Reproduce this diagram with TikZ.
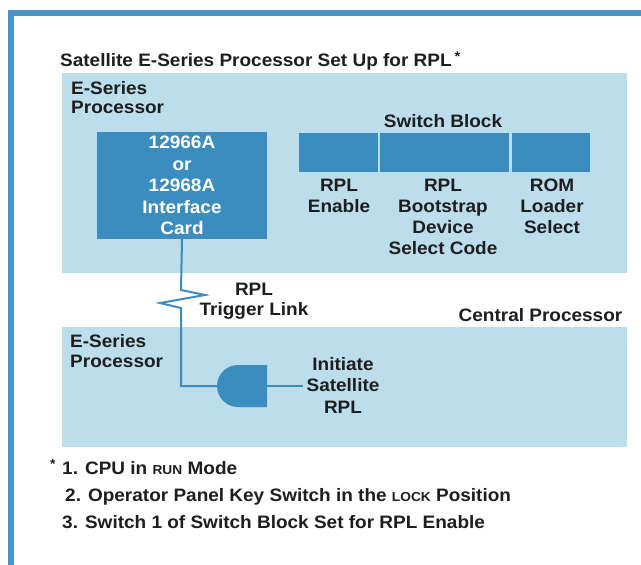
\documentclass[tikz,border=0pt]{standalone}
\usepackage{fontspec}
\setmainfont{Liberation Sans}[FakeStretch=1.055]
\definecolor{frameblue}{RGB}{72,150,198}
\definecolor{boxblue}{RGB}{60,141,191}
\definecolor{panelblue}{RGB}{188,221,236}
\definecolor{ink}{RGB}{30,30,30}
\newcommand{\fsc}[1]{{\fontsize{13}{13}\selectfont #1}}
\begin{document}
\begin{tikzpicture}[x=1pt,y=-1pt,
  lbl/.style={font=\fontsize{18}{21}\selectfont\bfseries, text=ink, inner sep=0pt, align=center},
  lblL/.style={lbl, align=left},
  panel/.style={fill=panelblue, draw=none, inner sep=0pt},
  cardbox/.style={fill=boxblue, draw=none, inner sep=0pt, text=white,
    font=\fontsize{18}{21.5}\selectfont\bfseries, align=center},
  swbox/.style={fill=boxblue, draw=none, inner sep=0pt, minimum height=39pt},
  wire/.style={draw=boxblue, line width=2pt},
  note/.style={font=\fontsize{18}{21}\selectfont\bfseries, text=ink, inner sep=0pt}]
\useasboundingbox (0,0) rectangle (641,565);
\fill[white] (0,0) rectangle (641,565);
% frame
\fill[frameblue] (8,10) rectangle (641,16);
\fill[frameblue] (8,10) rectangle (14,565);
% panels
\node[panel, minimum width=565pt, minimum height=200pt] (toppanel) at (344.5,173) {};
\node[panel, minimum width=565pt, minimum height=120pt] (botpanel) at (344.5,387) {};
% title
\node[note, anchor=base west] (title) at (60,66.5) {Satellite E-Series Processor Set Up for RPL\,\raisebox{5pt}{\fontsize{14}{14}\selectfont *}};
% top processor label
\node[lblL, anchor=north west, font=\fontsize{18}{19.5}\selectfont\bfseries] (eproc1) at (71,81) {E-Series\\Processor};
% interface card
\node[cardbox, minimum width=170pt, minimum height=107pt] (card) at (182,185.5) {12966A\\or\\12968A\\Interface\\Card};
% switch block
\node[lbl, anchor=base] (swtitle) at (443,127) {Switch Block};
\node[swbox, minimum width=79pt] (sw1) at (338.5,152) {};
\node[swbox, minimum width=129pt] (sw2) at (444.5,152) {};
\node[swbox, minimum width=78pt] (sw3) at (551,152) {};
\node[lbl, anchor=north] (sw1l) at (339,178.5) {RPL\\Enable};
\node[lbl, anchor=north] (sw2l) at (443,178.5) {RPL\\Bootstrap\\Device\\Select Code};
\node[lbl, anchor=north] (sw3l) at (552,178.5) {ROM\\Loader\\Select};
% trigger link
\node[lbl, anchor=north, font=\fontsize{18}{20}\selectfont\bfseries] (trig) at (254,283) {RPL\\Trigger Link};
\node[lbl, anchor=base] (central) at (540.5,321) {Central Processor};
% lower processor
\node[lblL, anchor=north west, font=\fontsize{18}{20}\selectfont\bfseries] (eproc2) at (70,334) {E-Series\\Processor};
% gate
\coordinate (gatein) at (217,386);
\coordinate (gateout) at (267,386);
\fill[boxblue] (267,365) -- (238,365) arc[start angle=90, end angle=270, radius=21pt] -- (267,407) -- cycle;
\node[lbl, anchor=north, font=\fontsize{18}{21.5}\selectfont\bfseries] (init) at (343,357) {Initiate\\Satellite\\RPL};
% wires
\draw[wire] (card.south) -- (181,290) -- (205,295) -- (160,303) -- (181,308) |- (gatein);
\draw[wire] (gateout) -- ([xshift=-3pt]init.west |- gateout);
% notes
\node[note, anchor=base west, font=\fontsize{13}{13}\selectfont\bfseries] (star) at (50,468) {*};
\node[note, anchor=base west] (n1) at (62,474) {1. CPU in \fsc{RUN} Mode};
\node[note, anchor=base west] (n2) at (65,501) {2. Operator Panel Key Switch in the \fsc{LOCK} Position};
\node[note, anchor=base west] (n3) at (62,528) {3. Switch 1 of Switch Block Set for RPL Enable};
\end{tikzpicture}
\end{document}
